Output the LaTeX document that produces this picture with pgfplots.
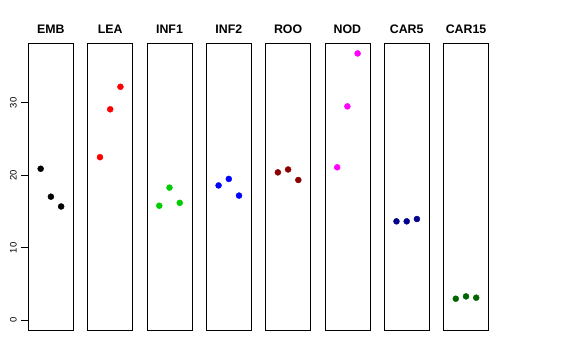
\documentclass[border=0pt]{standalone}
\usepackage{pgfplots}
\pgfplotsset{compat=1.18}
\usepackage{fontspec}
\setmainfont{Liberation Sans}
\setsansfont{Liberation Sans}
\definecolor{rgreen}{RGB}{0,205,0}
\definecolor{rdarkred}{RGB}{139,0,0}
\definecolor{rmagenta}{RGB}{255,0,255}
\definecolor{rnavy}{RGB}{0,0,139}
\definecolor{rdarkgreen}{RGB}{0,100,0}
\pgfplotsset{
  panel/.style={
    scale only axis, width=45bp, height=287.4bp,
    anchor=south west,
    xmin=-0.2, xmax=4.2, ymin=-1.43, ymax=38.2,
    xtick=\empty, ytick=\empty,
    axis line style={line width=0.75bp, black},
    title style={at={(0.5,1)}, anchor=base, yshift=4bp, inner sep=0pt,
      font=\bfseries\fontsize{12.4}{14}\selectfont},
    clip=false,
  },
  pts/.style={only marks, mark=*, mark size=3bp, color=#1, mark options={fill=#1, draw=#1}},
}
\begin{document}
\begin{tikzpicture}
\path[use as bounding box] (0,0) rectangle (576bp,360bp);
\begin{axis}[panel, at={(28.4bp,29.3bp)}, title={EMB},
  ytick={0,10,20,30}, ytick pos=left, tick align=outside, major tick length=7bp,
  tick style={line width=0.75bp, black},
  /pgf/number format/assume math mode=true,
  yticklabel style={xshift=-4.5bp, rotate=90, anchor=south, inner sep=0pt,
    font=\fontsize{9.5}{11}\selectfont}]
\addplot[pts=black] coordinates {(1,20.9) (2,17.05) (3,15.7)};
\end{axis}
\begin{axis}[panel, at={(87.7bp,29.3bp)}, title={LEA}]
\addplot[pts=red] coordinates {(1,22.5) (2,29.1) (3,32.2)};
\end{axis}
\begin{axis}[panel, at={(147.0bp,29.3bp)}, title={INF1}]
\addplot[pts=rgreen] coordinates {(1,15.8) (2,18.3) (3,16.2)};
\end{axis}
\begin{axis}[panel, at={(206.3bp,29.3bp)}, title={INF2}]
\addplot[pts=blue] coordinates {(1,18.6) (2,19.5) (3,17.2)};
\end{axis}
\begin{axis}[panel, at={(265.6bp,29.3bp)}, title={ROO}]
\addplot[pts=rdarkred] coordinates {(1,20.4) (2,20.8) (3,19.35)};
\end{axis}
\begin{axis}[panel, at={(324.9bp,29.3bp)}, title={NOD}]
\addplot[pts=rmagenta] coordinates {(1,21.1) (2,29.5) (3,36.8)};
\end{axis}
\begin{axis}[panel, at={(384.2bp,29.3bp)}, title={CAR5}]
\addplot[pts=rnavy] coordinates {(1,13.65) (2,13.65) (3,13.97)};
\end{axis}
\begin{axis}[panel, at={(443.5bp,29.3bp)}, title={CAR15}]
\addplot[pts=rdarkgreen] coordinates {(1,2.98) (2,3.3) (3,3.12)};
\end{axis}
\end{tikzpicture}
\end{document}
